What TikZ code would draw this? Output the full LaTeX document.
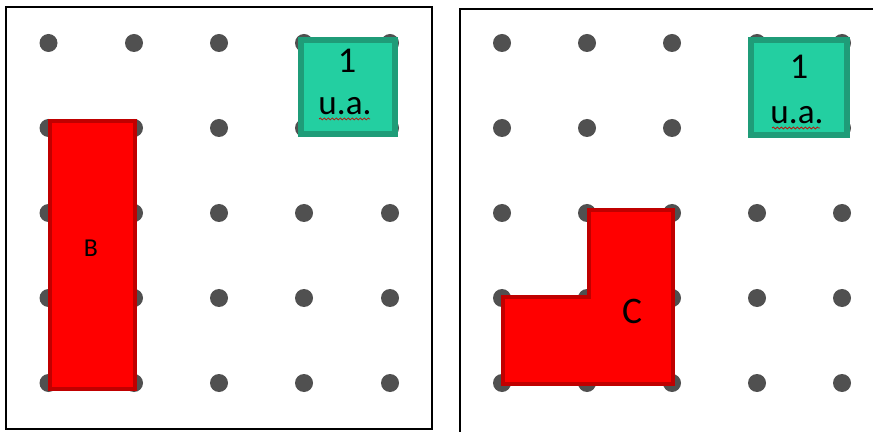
\documentclass[tikz,border=0pt]{standalone}
\usepackage{fontspec}
\setmainfont{Carlito}
\usepackage{tikz}
\usetikzlibrary{decorations.pathmorphing}
\definecolor{dotgray}{HTML}{505050}
\definecolor{teal fill}{HTML}{23CFA1}
\definecolor{teal edge}{HTML}{1F9C78}
\definecolor{red edge}{HTML}{C00000}
\tikzset{%
	grid dot/.style={
		fill=dotgray
	},
	unit square/.style={
		fill=teal fill,
		draw=teal edge,
		line width=5pt
	},
	red shape/.style={
		fill=red,
		draw=red edge,
		line width=3.4pt,
		line join=miter
	},
	panel frame/.style={
		draw=black,
		line width=2.5pt
	},
	spell mark/.style={
		draw=red!80!black,
		line width=0.6pt,
		decorate,
		decoration={snake, segment length=0.12cm, amplitude=0.03cm}
	},
}

\begin{document}
\begin{tikzpicture}[x=0.03cm, y=-0.03cm]
			\useasboundingbox (0,0) rectangle (873,432);
			\fill[white] (0,0) rectangle (873,432);
			
			% frames
			\draw[panel frame] (6,7) rectangle (432,429);
			\draw[panel frame] (460,9) rectangle (880,440);
			
			% dots
			\foreach \y in {43,128,213,298,383} {
				\foreach \x in {48.5,134,219,304,390}
					\fill[grid dot] (\x,\y) circle[radius=0.27cm];
				\foreach \x in {502,587,672,757,842}
					\fill[grid dot] (\x,\y) circle[radius=0.27cm];
			}
			
			% left panel
			\draw[unit square] (301,40) rectangle (395,134);
			\node (oneL) at (347,61) {\fontsize{31pt}{31pt}\selectfont 1};
			\node[anchor=base] (uaL) at (345,115) {\fontsize{30pt}{30pt}\selectfont u.a.};
			\draw[spell mark] (319,119) -- (370,119);
			
			\draw[red shape] (50,121) rectangle (135,389);
			\node (labB) at (91,248) {\fontsize{22pt}{22pt}\selectfont B};
			
			% right panel
			\draw[unit square] (751,40) rectangle (847,135);
			\node (oneR) at (799,67) {\fontsize{31pt}{31pt}\selectfont 1};
			\node[anchor=base] (uaR) at (797,124) {\fontsize{30pt}{30pt}\selectfont u.a.};
			\draw[spell mark] (772,128) -- (820,128);
			
			\draw[red shape] (503,297) -- (589,297) -- (589,210) -- (673,210) -- (673,384) -- (503,384) -- cycle;
			\node (labC) at (632,311) {\fontsize{32pt}{32pt}\selectfont C};
		\end{tikzpicture}
\end{document}
